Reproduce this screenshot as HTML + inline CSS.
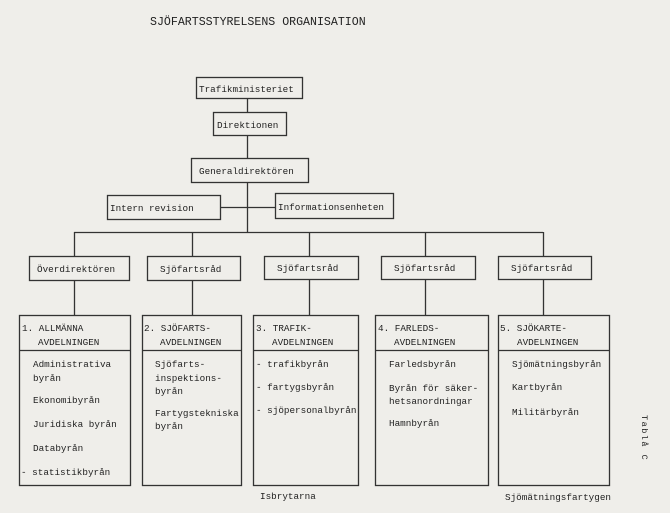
<!DOCTYPE html>
<html><head><meta charset="utf-8"><style>
html,body{margin:0;padding:0;background:#efeeea;}
svg{display:block}
text{font-family:"Liberation Mono",monospace;font-size:9.3px;fill:#222;}
</style></head><body>
<svg width="670" height="513" viewBox="0 0 670 513" xmlns="http://www.w3.org/2000/svg">
<rect width="670" height="513" fill="#efeeea"/>
<g stroke="#333" stroke-width="1.3" fill="none">
<rect x="196.5" y="77.5" width="106" height="21"/>
<rect x="213.5" y="112.5" width="73" height="23"/>
<rect x="191.5" y="158.5" width="117" height="24"/>
<rect x="107.5" y="195.5" width="113" height="24"/>
<rect x="275.5" y="193.5" width="118" height="25"/>
<line x1="247.5" y1="99" x2="247.5" y2="112"/>
<line x1="247.5" y1="136" x2="247.5" y2="158"/>
<line x1="247.5" y1="183" x2="247.5" y2="232"/>
<line x1="221" y1="207.5" x2="275" y2="207.5"/>
<line x1="74" y1="232.5" x2="543" y2="232.5"/>
<rect x="29.5" y="256.5" width="100" height="24"/>
<rect x="147.5" y="256.5" width="93" height="24"/>
<rect x="264.5" y="256.5" width="94" height="23"/>
<rect x="381.5" y="256.5" width="94" height="23"/>
<rect x="498.5" y="256.5" width="93" height="23"/>
<line x1="74.5" y1="232" x2="74.5" y2="256"/>
<line x1="192.5" y1="232" x2="192.5" y2="256"/>
<line x1="309.5" y1="232" x2="309.5" y2="256"/>
<line x1="425.5" y1="232" x2="425.5" y2="256"/>
<line x1="543.5" y1="232" x2="543.5" y2="256"/>
<line x1="74.5" y1="281" x2="74.5" y2="315"/>
<line x1="192.5" y1="281" x2="192.5" y2="315"/>
<line x1="309.5" y1="280" x2="309.5" y2="315"/>
<line x1="425.5" y1="280" x2="425.5" y2="315"/>
<line x1="543.5" y1="280" x2="543.5" y2="315"/>
<rect x="19.5" y="315.5" width="111" height="170"/>
<rect x="142.5" y="315.5" width="99" height="170"/>
<rect x="253.5" y="315.5" width="105" height="170"/>
<rect x="375.5" y="315.5" width="113" height="170"/>
<rect x="498.5" y="315.5" width="111" height="170"/>
<line x1="19" y1="350.5" x2="131" y2="350.5"/>
<line x1="142" y1="350.5" x2="242" y2="350.5"/>
<line x1="253" y1="350.5" x2="359" y2="350.5"/>
<line x1="375" y1="350.5" x2="489" y2="350.5"/>
<line x1="498" y1="350.5" x2="610" y2="350.5"/>
</g>
<text x="150" y="25" style="font-size:11.6px">SJÖFARTSSTYRELSENS ORGANISATION</text>
<text x="199" y="92">Trafikministeriet</text>
<text x="217" y="128">Direktionen</text>
<text x="199" y="174">Generaldirektören</text>
<text x="110" y="211">Intern revision</text>
<text x="278" y="210">Informationsenheten</text>
<text x="37" y="272">Överdirektören</text>
<text x="160" y="272">Sjöfartsråd</text>
<text x="277" y="271">Sjöfartsråd</text>
<text x="394" y="271">Sjöfartsråd</text>
<text x="511" y="271">Sjöfartsråd</text>

<text x="22" y="331">1. ALLMÄNNA</text><text x="38" y="345">AVDELNINGEN</text>
<text x="33" y="367">Administrativa</text><text x="33" y="381">byrån</text>
<text x="33" y="403">Ekonomibyrån</text>
<text x="33" y="427">Juridiska byrån</text>
<text x="33" y="451">Databyrån</text>
<text x="21" y="475">- statistikbyrån</text>

<text x="144" y="331">2. SJÖFARTS-</text><text x="160" y="345">AVDELNINGEN</text>
<text x="155" y="367">Sjöfarts-</text><text x="155" y="381">inspektions-</text><text x="155" y="394">byrån</text>
<text x="155" y="416">Fartygstekniska</text><text x="155" y="429">byrån</text>

<text x="256" y="331">3. TRAFIK-</text><text x="272" y="345">AVDELNINGEN</text>
<text x="256" y="367">- trafikbyrån</text>
<text x="256" y="390">- fartygsbyrån</text>
<text x="256" y="413">- sjöpersonalbyrån</text>

<text x="378" y="331">4. FARLEDS-</text><text x="394" y="345">AVDELNINGEN</text>
<text x="389" y="367">Farledsbyrån</text>
<text x="389" y="391">Byrån för säker-</text><text x="389" y="404">hetsanordningar</text>
<text x="389" y="426">Hamnbyrån</text>

<text x="500" y="331">5. SJÖKARTE-</text><text x="517" y="345">AVDELNINGEN</text>
<text x="512" y="367">Sjömätningsbyrån</text>
<text x="512" y="390">Kartbyrån</text>
<text x="512" y="415">Militärbyrån</text>

<text x="260" y="499">Isbrytarna</text>
<text x="505" y="500">Sjömätningsfartygen</text>
<text x="0" y="0" transform="translate(642,415) rotate(90)" style="font-size:8.5px;letter-spacing:1.5px">Tablå C</text>
</svg>
</body></html>
